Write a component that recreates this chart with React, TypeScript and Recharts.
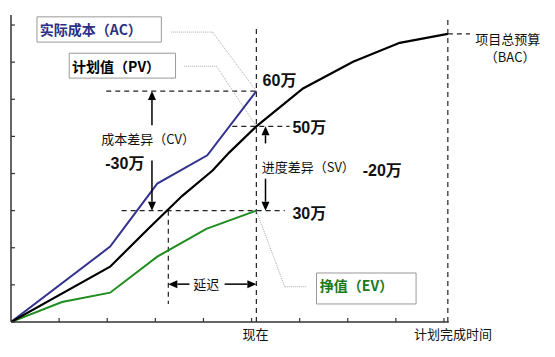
import React from 'react';
import { LineChart, Line, XAxis, YAxis, ReferenceLine, ReferenceArea, ReferenceDot } from 'recharts';

// ---- data (time in tick units, value in 万) ----
const pvTime = [0, 2.06, 2.875, 3.56, 4.19, 4.54, 5.1, 6.07, 7.11, 8.08, 9.08];
const pvValue = [0, 14.9, 25.4, 34, 40.8, 45.7, 52.7, 62.9, 70.1, 75.2, 77.6];
const acTime = [0, 2.06, 3.04, 4.08, 5.1];
const acValue = [0, 20.3, 37.3, 44.9, 62.2];
const evTime = [0, 1.06, 2.06, 3.04, 4.06, 5.1];
const evValue = [0, 5.4, 7.9, 17.6, 25.1, 30];
const timeTicks = [0, 1, 2, 3, 4, 5, 6, 7, 8, 9];
const valueTicks = [0, 10, 20, 30, 40, 50, 60, 70, 80];

const NOW = 5.1;
const PLAN_END = 9.08;
const AC_NOW = 62.2;
const PV_NOW = 52.7;
const EV_NOW = 30;
const BAC = 77.6;
const DELAY_START = 3.27;

const pvData = pvTime.map((t, i) => ({ t, v: pvValue[i] }));
const acData = acTime.map((t, i) => ({ t, v: acValue[i] }));
const evData = evTime.map((t, i) => ({ t, v: evValue[i] }));

const CJK = "'Noto Sans CJK SC', sans-serif";
const BOLDNUM = "'Liberation Sans', 'Noto Sans CJK SC', sans-serif";

type Pt = [number, number];

const dashedSegs: Pt[][] = [
  [[NOW, 0], [NOW, 79.2]],
  [[PLAN_END, 0], [PLAN_END, 81.9]],
  [[1.98, AC_NOW], [NOW, AC_NOW]],
  [[4.6, PV_NOW], [5.79, PV_NOW]],
  [[2.3, EV_NOW], [5.69, EV_NOW]],
  [[PLAN_END, BAC], [9.54, BAC]],
  [[DELAY_START, EV_NOW], [DELAY_START, 4.86]],
];

const arrowSegs: Pt[][] = [
  [[2.93, 53], [2.93, AC_NOW]],
  [[2.93, 43.5], [2.93, EV_NOW]],
  [[5.29, 48.1], [5.29, PV_NOW]],
  [[5.29, 38.6], [5.29, EV_NOW]],
  [[3.71, 10.2], [DELAY_START, 10.2]],
  [[4.44, 10.2], [NOW, 10.2]],
];

const leaderSegs: Pt[][] = [
  [[3.33, 78.1], [4.19, 78.1]],
  [[4.19, 78.1], [NOW, AC_NOW]],
  [[3.6, 68.9], [4.27, 68.9]],
  [[4.27, 68.9], [NOW, PV_NOW]],
  [[NOW, EV_NOW], [5.69, 9.5]],
  [[5.69, 9.5], [6.15, 9.5]],
];

const boxes = [
  { x1: 0.54, x2: 3.125, y1: 75.4, y2: 82.2 },
  { x1: 1.21, x2: 3.42, y1: 65.7, y2: 72.4 },
  { x1: 6.35, x2: 8.42, y1: 4.86, y2: 13.2 },
];

type Lbl = { text: string; t: number; v: number; anchor: 'start' | 'middle'; size: number; bold: boolean; color: string; font: string };
const labels: Lbl[] = [
  { text: '实际成本（AC）', t: 0.6, v: 78.8, anchor: 'start', size: 14, bold: true, color: '#2e2e86', font: CJK },
  { text: '计划值（PV）', t: 1.27, v: 69, anchor: 'start', size: 14, bold: true, color: '#000', font: CJK },
  { text: '挣值（EV）', t: 6.42, v: 10, anchor: 'start', size: 14, bold: true, color: '#1a7a1a', font: CJK },
  { text: '60万', t: 5.23, v: 65.1, anchor: 'start', size: 16, bold: true, color: '#111', font: BOLDNUM },
  { text: '50万', t: 5.85, v: 52.4, anchor: 'start', size: 16, bold: true, color: '#111', font: BOLDNUM },
  { text: '30万', t: 5.85, v: 29.2, anchor: 'start', size: 16, bold: true, color: '#111', font: BOLDNUM },
  { text: '-20万', t: 7.31, v: 40.8, anchor: 'start', size: 16, bold: true, color: '#111', font: BOLDNUM },
  { text: '-30万', t: 1.96, v: 42.7, anchor: 'start', size: 16, bold: true, color: '#111', font: BOLDNUM },
  { text: '进度差异（SV）', t: 5.21, v: 41.9, anchor: 'start', size: 13, bold: false, color: '#111', font: CJK },
  { text: '成本差异（CV）', t: 1.875, v: 49.5, anchor: 'start', size: 13, bold: false, color: '#111', font: CJK },
  { text: '延迟', t: 4.06, v: 10.3, anchor: 'middle', size: 13, bold: false, color: '#111', font: CJK },
  { text: '现在', t: 5.08, v: -3.2, anchor: 'middle', size: 13, bold: false, color: '#111', font: CJK },
  { text: '计划完成时间', t: 9.19, v: -3.2, anchor: 'middle', size: 13, bold: false, color: '#111', font: CJK },
  { text: '项目总预算', t: 9.65, v: 76.5, anchor: 'start', size: 13, bold: false, color: '#111', font: CJK },
  { text: '（BAC）', t: 10.375, v: 71.4, anchor: 'middle', size: 13, bold: false, color: '#111', font: CJK },
];

const ArrowShape = (p: any) => {
  const { x1, y1, x2, y2 } = p;
  const dx = x2 - x1;
  const dy = y2 - y1;
  const len = Math.hypot(dx, dy) || 1;
  const ux = dx / len;
  const uy = dy / len;
  const L = 9;
  const W = 4;
  const bx = x2 - ux * L;
  const by = y2 - uy * L;
  const pts = `${x2},${y2} ${bx - uy * W},${by + ux * W} ${bx + uy * W},${by - ux * W}`;
  return (
    <g>
      <line x1={x1} y1={y1} x2={bx} y2={by} stroke="#000" strokeWidth={1.5} />
      <polygon points={pts} fill="#000" />
    </g>
  );
};

const NoTick = () => <g />;

export default function App() {
  return (
    <LineChart
      width={547}
      height={349}
      margin={{ top: 7, right: 106.2, bottom: 35, left: 3 }}
      style={{ background: '#fff' }}
    >
      <XAxis
        type="number"
        dataKey="t"
        domain={[0, 9.1]}
        ticks={timeTicks}
        allowDataOverflow
        height={1}
        mirror
        tick={NoTick}
        tickSize={4}
        axisLine={{ stroke: '#333', strokeWidth: 1.5 }}
        tickLine={{ stroke: '#333', strokeWidth: 1.2 }}
      />
      <YAxis
        type="number"
        dataKey="v"
        domain={[0, 82.7]}
        ticks={valueTicks}
        allowDataOverflow
        width={1}
        mirror
        tick={NoTick}
        tickSize={4}
        axisLine={{ stroke: '#333', strokeWidth: 1.5 }}
        tickLine={{ stroke: '#333', strokeWidth: 1.2 }}
      />
      {boxes.map((b, i) => (
        <ReferenceArea
          key={'box' + i}
          x1={b.x1}
          x2={b.x2}
          y1={b.y1}
          y2={b.y2}
          ifOverflow="visible"
          fill="#fff"
          fillOpacity={1}
          stroke="#999"
          strokeWidth={1}
        />
      ))}
      {dashedSegs.map((s, i) => (
        <ReferenceLine
          key={'d' + i}
          segment={[{ x: s[0][0], y: s[0][1] }, { x: s[1][0], y: s[1][1] }]}
          ifOverflow="visible"
          stroke="#222"
          strokeWidth={1.2}
          strokeDasharray="5 4"
        />
      ))}
      {leaderSegs.map((s, i) => (
        <ReferenceLine
          key={'l' + i}
          segment={[{ x: s[0][0], y: s[0][1] }, { x: s[1][0], y: s[1][1] }]}
          ifOverflow="visible"
          stroke="#aaa"
          strokeWidth={1}
          strokeDasharray="1 1"
        />
      ))}
      <Line data={acData} dataKey="v" stroke="#33338f" strokeWidth={2} dot={false} isAnimationActive={false} />
      <Line data={evData} dataKey="v" stroke="#1e8c1e" strokeWidth={2} dot={false} isAnimationActive={false} />
      <Line data={pvData} dataKey="v" stroke="#000" strokeWidth={2.2} dot={false} isAnimationActive={false} />
      {arrowSegs.map((s, i) => (
        <ReferenceLine
          key={'a' + i}
          segment={[{ x: s[0][0], y: s[0][1] }, { x: s[1][0], y: s[1][1] }]}
          ifOverflow="visible"
          shape={ArrowShape}
        />
      ))}
      {labels.map((l, i) => (
        <ReferenceDot
          key={'t' + i}
          x={l.t}
          y={l.v}
          r={0}
          ifOverflow="visible"
          shape={(p: any) => (
            <text
              x={p.cx}
              y={p.cy}
              textAnchor={l.anchor}
              dominantBaseline="central"
              fontSize={l.size}
              fontWeight={l.bold ? 700 : 400}
              fontFamily={l.font}
              fill={l.color}
            >
              {l.text}
            </text>
          )}
        />
      ))}
    </LineChart>
  );
}
